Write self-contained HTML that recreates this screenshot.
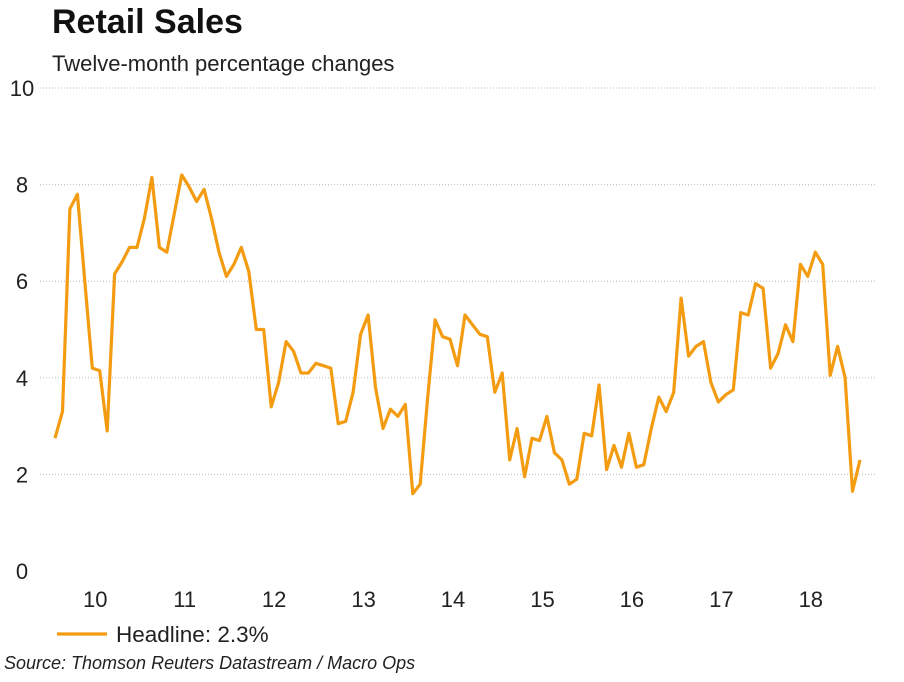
<!DOCTYPE html>
<html><head><meta charset="utf-8"><style>
body{margin:0;background:#fff;width:904px;height:677px;overflow:hidden;font-family:"Liberation Sans",Arial,sans-serif}
</style></head><body>
<svg width="904" height="677" xmlns="http://www.w3.org/2000/svg">
<text x="52" y="33" font-size="34" font-weight="bold" fill="#111">Retail Sales</text>
<text x="52" y="71" font-size="22" fill="#222">Twelve-month percentage changes</text>
<g id="grid"></g><g id="yt"></g><g id="xt"></g>
<path id="line" fill="none" stroke="#F39C12" stroke-width="3.2" stroke-linejoin="round"/>
<line x1="57" y1="634" x2="107" y2="634" stroke="#F39C12" stroke-width="3.2"/>
<text x="116" y="642" font-size="22.5" fill="#222">Headline: 2.3%</text>
<text x="4" y="669" font-size="18" font-style="italic" fill="#222">Source: Thomson Reuters Datastream / Macro Ops</text>
</svg>
<script>
const values=[2.75,3.3,7.5,7.8,6.0,4.2,4.15,2.9,6.15,6.4,6.7,6.7,7.3,8.15,6.7,6.6,7.4,8.2,7.95,7.65,7.9,7.3,6.6,6.1,6.35,6.7,6.2,5.0,5.0,3.4,3.9,4.75,4.55,4.1,4.1,4.3,4.25,4.2,3.05,3.1,3.7,4.9,5.3,3.8,2.95,3.35,3.2,3.45,1.6,1.8,3.6,5.2,4.85,4.8,4.25,5.3,5.1,4.9,4.85,3.7,4.1,2.3,2.95,1.95,2.75,2.7,3.2,2.45,2.3,1.8,1.9,2.85,2.8,3.85,2.1,2.6,2.15,2.85,2.15,2.2,2.95,3.6,3.3,3.7,5.65,4.45,4.65,4.75,3.9,3.5,3.65,3.75,5.35,5.3,5.95,5.85,4.2,4.5,5.1,4.75,6.35,6.1,6.6,6.35,4.05,4.65,4.0,1.65,2.3];
const yTicks=[0,2,4,6,8,10];
const yearLabels=["10","11","12","13","14","15","16","17","18"];
const yearOffset=5.4;
const NS="http://www.w3.org/2000/svg";
const x0=55,x1=860;
const step=(x1-x0)/(values.length-1);
const xS=i=>x0+i*step;
const yS=v=>571-v*48.3;
function mk(t,a,p){const e=document.createElementNS(NS,t);for(const k in a)e.setAttribute(k,a[k]);p.appendChild(e);return e;}
const g=document.getElementById('grid'),yt=document.getElementById('yt'),xt=document.getElementById('xt');
yTicks.forEach(v=>{
 if(v>0){const l=mk('line',{x1:40,x2:876,y1:yS(v),y2:yS(v),stroke:'#bbb','stroke-width':1,'stroke-dasharray':'1,2'},g);
 
 }
 const t=mk('text',{x:22,y:yS(v)+8,'font-size':22,'text-anchor':'middle',fill:'#222'},yt);
 t.textContent=v;
 
 
});
yearLabels.forEach((y,k)=>{
 const t=mk('text',{x:xS(yearOffset+12*k),y:607,'font-size':22,'text-anchor':'middle',fill:'#222'},xt);
 t.textContent=y;
 
 
});
document.getElementById('line').setAttribute('d',values.map((v,i)=>(i?'L':'M')+xS(i).toFixed(1)+' '+yS(v).toFixed(1)).join(' '));
</script>
</body></html>
